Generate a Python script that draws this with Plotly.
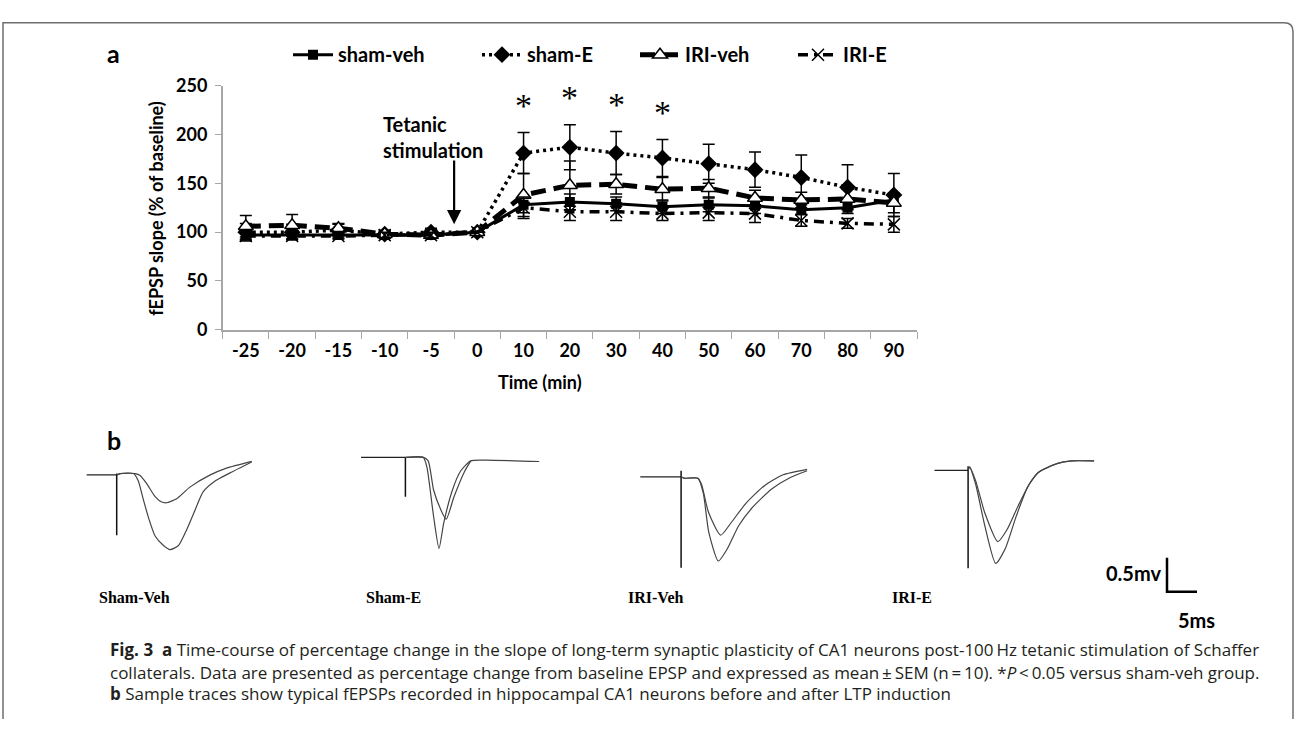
import plotly.graph_objects as go

W, H = 1295, 729

# ---------------- Panel a data ----------------
time_labels = ["-25", "-20", "-15", "-10", "-5", "0", "10", "20", "30", "40", "50", "60", "70", "80", "90"]
y_ticks = [0, 50, 100, 150, 200, 250]

sham_veh = [97, 97, 97, 97, 97, 100, 128, 131, 129, 126, 128, 127, 123, 125, 133]
sham_veh_err = [4, 4, 3, 3, 3, 0, 8, 8, 7, 7, 7, 8, 5, 6, 6]
sham_e = [100, 100, 102, 98, 100, 100, 181, 187, 181, 176, 170, 164, 156, 146, 138]
sham_e_err = [9, 8, 6, 4, 4, 0, 21, 23, 22, 19, 20, 18, 23, 23, 22]
iri_veh = [106, 107, 104, 98, 97, 100, 138, 148, 149, 144, 145, 135, 133, 134, 130]
iri_veh_err = [11, 11, 5, 3, 3, 0, 22, 25, 10, 12, 9, 8, 8, 10, 10]
iri_e = [96, 96, 96, 97, 97, 100, 125, 121, 121, 119, 120, 119, 112, 109, 108]
iri_e_err = [4, 3, 3, 3, 3, 0, 11, 9, 9, 7, 8, 9, 6, 5, 8]

sig_times = ["10", "20", "30", "40"]

# ---------------- Panel b data (ms, mV) ----------------
sv_base_t = [-5.0, 0.0]
sv_base_v = [0.0, 0.0]
sv_art_t = [0.0, 0.0]
sv_art_v = [0.02, -0.89]
sv_pre_t = [0.0, 0.6, 3.1, 3.9, 5.0, 6.4, 7.5, 8.3, 10.0, 12.2, 15.6, 18.3, 22.5]
sv_pre_v = [0.0, 0.02, 0.02, -0.01, -0.13, -0.32, -0.40, -0.41, -0.35, -0.18, 0.0, 0.10, 0.20]
sv_post_t = [0.0, 0.6, 2.8, 3.6, 4.4, 5.3, 6.4, 7.8, 8.9, 10.3, 11.7, 13.1, 14.4, 16.4, 18.9, 22.5]
sv_post_v = [0.0, 0.02, 0.02, -0.09, -0.35, -0.63, -0.90, -1.04, -1.10, -1.04, -0.80, -0.51, -0.25, -0.09, 0.03, 0.19]

se_base_t = [-7.4, 0.0]
se_base_v = [0.0, 0.0]
se_art_t = [0.0, 0.0]
se_art_v = [0.0, -0.58]
se_pre_t = [0.0, 3.0, 3.8, 4.7, 5.8, 6.8, 8.1, 9.9, 10.9]
se_pre_v = [0.0, 0.0, -0.05, -0.48, -0.75, -0.91, -0.58, -0.20, -0.05]
se_post_t = [0.0, 3.0, 3.6, 4.7, 5.6, 6.4, 7.8, 9.2, 10.9, 13.3, 22.3]
se_post_v = [0.0, 0.0, -0.15, -0.87, -1.34, -0.96, -0.49, -0.20, -0.05, -0.04, -0.06]

iv_base_t = [-6.8, 0.0]
iv_base_v = [0.0, 0.0]
iv_art_t = [0.0, 0.0]
iv_art_v = [0.09, -1.34]
iv_pre_t = [0.0, 0.5, 2.8, 3.4, 4.6, 6.6, 8.3, 10.8, 13.9, 17.0, 21.0]
iv_pre_v = [0.0, -0.02, -0.02, -0.11, -0.53, -0.86, -0.68, -0.39, -0.13, 0.03, 0.11]
iv_post_t = [0.0, 0.5, 2.8, 3.7, 4.6, 6.2, 7.7, 9.6, 12.0, 15.1, 18.2, 21.0]
iv_post_v = [0.0, -0.02, -0.02, -0.24, -0.81, -1.24, -1.06, -0.72, -0.44, -0.18, -0.01, 0.09]

ie_base_t = [-5.6, 0.0]
ie_base_v = [0.0, 0.0]
ie_art_t = [0.0, 0.0]
ie_art_v = [0.06, -1.44]
ie_pre_t = [0.0, 0.25, 1.25, 2.8, 4.95, 6.5, 8.3, 10.2, 11.7, 14.8, 17.3, 21.0]
ie_pre_v = [0.0, 0.05, -0.15, -0.63, -1.05, -0.87, -0.53, -0.20, -0.03, 0.10, 0.14, 0.14]
ie_post_t = [0.0, 0.25, 1.25, 2.8, 4.6, 6.2, 8.0, 9.9, 11.7, 14.8, 17.3, 21.0]
ie_post_v = [0.0, 0.05, -0.20, -0.82, -1.37, -1.15, -0.68, -0.25, -0.03, 0.10, 0.14, 0.14]

scale_mv = 0.5
scale_ms = 5

trace_names = ["Sham-Veh", "Sham-E", "IRI-Veh", "IRI-E"]

# ---------------- helpers ----------------
def px(x):
    return x / W

def py(y):
    return 1 - y / H

fig = go.Figure()

black = "#000000"
FONT = "Lato, 'DejaVu Sans', sans-serif"
catfont = dict(family=FONT, size=18, color="black", weight="bold")

# Panel a series (legendwidth = text-area width so entries start where the reference's do)
series = [
    dict(name="sham-veh", y=sham_veh, e=sham_veh_err, dash="solid", width=3, lw=134,
         marker=dict(symbol="square", size=10, color=black)),
    dict(name="sham-E", y=sham_e, e=sham_e_err, dash="3px,4px", width=3.5, lw=103,
         marker=dict(symbol="diamond", size=13, color=black)),
    dict(name="IRI-veh", y=iri_veh, e=iri_veh_err, dash="15px,8px", width=5, lw=103,
         marker=dict(symbol="triangle-up", size=13, color="white", line=dict(color=black, width=1.5))),
    dict(name="IRI-E", y=iri_e, e=iri_e_err, dash="10px,6px,3px,6px", width=3.5, lw=60,
         marker=dict(symbol="x-thin-open", size=12, color=black, line=dict(color=black, width=1.5))),
]
for s in series:
    fig.add_trace(go.Scatter(
        x=time_labels, y=s["y"], name=s["name"], mode="lines+markers",
        line=dict(color=black, width=s["width"], dash=s["dash"]),
        marker=s["marker"], legendwidth=s["lw"],
        error_y=dict(type="data", array=s["e"], color=black, thickness=1.5, width=6),
        xaxis="x", yaxis="y", showlegend=True,
    ))

# Significance stars (category index positions)
for t in sig_times:
    i = time_labels.index(t)
    fig.add_annotation(x=i, y=sham_e[i] + sham_e_err[i], xref="x", yref="y",
                       text="*", showarrow=False, yanchor="middle", yshift=27,
                       font=dict(family="Liberation Serif, serif", size=34, color="black"))

# Tetanic stimulation arrow (between -5 and 0)
fig.add_annotation(x=4.5, y=108, xref="x", yref="y", ax=4.5, ay=175, axref="x", ayref="y",
                   text="", showarrow=True, arrowhead=2, arrowsize=1.3, arrowwidth=2.2, arrowcolor="black")
fig.add_annotation(x=px(381), y=py(129), xref="paper", yref="paper", xanchor="left", yanchor="middle",
                   align="left", showarrow=False, text="Tetanic<br>stimulation",
                   font=dict(family=FONT, size=20, color="black", weight="bold"))

# Panel b: EPSP traces
panels = [
    (116.7, 477.3, sv_base_t, sv_base_v, sv_art_t, sv_art_v, sv_pre_t, sv_pre_v, sv_post_t, sv_post_v),
    (405.4, 459.3, se_base_t, se_base_v, se_art_t, se_art_v, se_pre_t, se_pre_v, se_post_t, se_post_v),
    (681.1, 479.3, iv_base_t, iv_base_v, iv_art_t, iv_art_v, iv_pre_t, iv_pre_v, iv_post_t, iv_post_v),
    (968.1, 472.7, ie_base_t, ie_base_v, ie_art_t, ie_art_v, ie_pre_t, ie_pre_v, ie_post_t, ie_post_v),
]
PX_PER_MS, PX_PER_MV = 6.0, 70.0
L, R, T, B = 60, 150, 30, 110
layout_axes = {}
for k, (x0, y0, bt, bv, at, av, pt, pv, qt, qv) in enumerate(panels):
    n = k + 2
    xa, ya = f"x{n}", f"y{n}"
    for tt, vv, col, w in [(bt, bv, "#222", 1.3), (at, av, "#111", 1.5), (pt, pv, "#444", 1.2), (qt, qv, "#444", 1.2)]:
        fig.add_trace(go.Scatter(x=tt, y=vv, mode="lines", line=dict(color=col, width=w, shape="spline", smoothing=0.6),
                                 xaxis=xa, yaxis=ya, showlegend=False, hoverinfo="skip"))
    layout_axes[f"xaxis{n}"] = dict(domain=[px(x0 - L), px(x0 + R)], range=[-L / PX_PER_MS, R / PX_PER_MS],
                                    visible=False, anchor=ya, fixedrange=True)
    layout_axes[f"yaxis{n}"] = dict(domain=[py(y0 + B), py(y0 - T)], range=[-B / PX_PER_MV, T / PX_PER_MV],
                                    visible=False, anchor=xa, fixedrange=True)

# Scale bar
sx0, sy0 = 1167, 597.7
fig.add_trace(go.Scatter(x=[0, 0, scale_ms], y=[scale_mv, 0, 0], mode="lines",
                         line=dict(color="black", width=2.5), xaxis="x6", yaxis="y6",
                         showlegend=False, hoverinfo="skip"))
layout_axes["xaxis6"] = dict(domain=[px(sx0 - 10), px(sx0 + 50)], range=[-10 / PX_PER_MS, 50 / PX_PER_MS],
                             visible=False, anchor="y6")
layout_axes["yaxis6"] = dict(domain=[py(sy0 + 10), py(sy0 - 50)], range=[-10 / PX_PER_MV, 50 / PX_PER_MV],
                             visible=False, anchor="x6")

# Trace labels
label_pos = [(134, 604), (393, 604), (656, 604), (912, 604)]
for name, (lx, ly) in zip(trace_names, label_pos):
    fig.add_annotation(x=px(lx), y=py(ly), xref="paper", yref="paper", text=f"<b>{name}</b>", showarrow=False,
                       xanchor="center", yanchor="middle",
                       font=dict(family="Liberation Serif, 'Times New Roman', serif", size=16, color="black"))

fig.add_annotation(x=px(1163), y=py(578), xref="paper", yref="paper", text="0.5mv", showarrow=False,
                   xanchor="right", yanchor="middle", font=dict(family=FONT, size=20, color="black", weight="bold"))
fig.add_annotation(x=px(1196), y=py(627), xref="paper", yref="paper", text="5ms", showarrow=False,
                   xanchor="center", yanchor="middle", font=dict(family=FONT, size=20, color="black", weight="bold"))

# Panel letters
fig.add_annotation(x=px(105), y=py(42), xref="paper", yref="paper", text="a", showarrow=False,
                   xanchor="left", yanchor="middle", font=dict(family=FONT, size=25, color="black", weight="bold"))
fig.add_annotation(x=px(105), y=py(441), xref="paper", yref="paper", text="b", showarrow=False,
                   xanchor="left", yanchor="middle", font=dict(family=FONT, size=25, color="black", weight="bold"))

# Axis titles
fig.add_annotation(x=px(540), y=py(381), xref="paper", yref="paper", text="Time (min)", showarrow=False,
                   xanchor="center", yanchor="middle", font=dict(family=FONT, size=18, color="black", weight="bold"))
fig.add_annotation(x=px(156), y=py(203), xref="paper", yref="paper", text="fEPSP slope (% of baseline)",
                   showarrow=False, textangle=-90, xanchor="center", yanchor="middle",
                   font=dict(family=FONT, size=18, color="black", weight="bold"))

# Caption
cap_font = dict(family="'Open Sans', 'Noto Sans', sans-serif", size=17, color="#231f20")
caption_lines = [
    "<b>Fig. 3</b>  <b>a</b> Time-course of percentage change in the slope of long-term synaptic plasticity of CA1 neurons post-100\u2009Hz tetanic stimulation of Schaffer",
    "collaterals. Data are presented as percentage change from baseline EPSP and expressed as mean\u2009\u00b1\u2009SEM (n\u2009=\u200910). *<i>P</i>\u2009<\u20090.05 versus sham-veh group.",
    "<b>b</b> Sample traces show typical fEPSPs recorded in hippocampal CA1 neurons before and after LTP induction",
]
for line, ly in zip(caption_lines, [657, 681, 703]):
    fig.add_annotation(x=px(108), y=py(ly), xref="paper", yref="paper", text=line, showarrow=False,
                       xanchor="left", yanchor="middle", font=cap_font)

# Frame
fig.add_shape(type="path", xref="paper", yref="paper",
              path=f"M {px(3)},{py(729)} L {px(3)},{py(11)} L {px(1284)},{py(11)} Q {px(1293)},{py(11)} {px(1293)},{py(20)} L {px(1293)},{py(729)}",
              line=dict(color="#6d6e71", width=1.5))

fig.update_layout(
    width=W, height=H, margin=dict(l=0, r=0, t=0, b=0),
    paper_bgcolor="white", plot_bgcolor="white",
    showlegend=True,
    legend=dict(orientation="h", x=px(288), y=py(44), xanchor="left", yanchor="middle",
                font=dict(family=FONT, size=20, color="black", weight="bold"),
                bgcolor="rgba(0,0,0,0)", itemwidth=40, tracegroupgap=0, entrywidthmode="pixels"),
    xaxis=dict(domain=[px(222.7), px(917)], type="category", categoryorder="array", categoryarray=time_labels,
               range=[-0.5, 14.5], tickson="boundaries", ticks="outside", ticklen=7, tickcolor="#a6a6a6",
               showline=True, linecolor="#a6a6a6", linewidth=1.5, showgrid=False, zeroline=False,
               tickfont=catfont, anchor="y", fixedrange=True, ticklabelstandoff=4),
    yaxis=dict(domain=[py(327.7), py(76)], range=[0, 250], tickvals=y_ticks, ticks="outside", ticklen=6,
               tickcolor="#a6a6a6", showline=True, linecolor="#a6a6a6", linewidth=1.5, showgrid=False,
               zeroline=False, tickfont=catfont, anchor="x", fixedrange=True, ticklabelstandoff=4),
    **layout_axes,
)

fig.write_html("out.html", config={"displayModeBar": False},
               post_script="document.body.style.margin='0px';")
